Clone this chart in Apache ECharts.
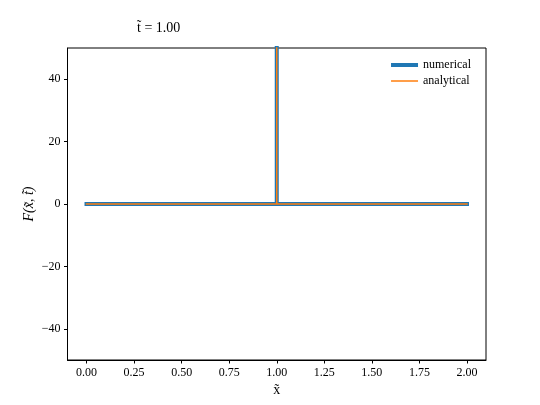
<!DOCTYPE html>
<html>
<head>
<meta charset="utf-8">
<script src="https://cdn.jsdelivr.net/npm/echarts@6/dist/echarts.min.js"></script>
<style>
html, body { margin: 0; padding: 0; background: #fff; }
#main { width: 540px; height: 405px; }
</style>
</head>
<body>
<div id="main"></div>
<script>
// data
var xValues = [0, 1, 1, 1, 2];
var numerical = [0, 0, 100, 0, 0];
var analytical = [0, 0, 100, 0, 0];
var xTicks = [0, 0.25, 0.5, 0.75, 1, 1.25, 1.5, 1.75, 2];
var yTicks = [-40, -20, 0, 20, 40];

var font = 'Liberation Serif';

function pairs(ys) {
	var out = [];
	for (var i = 0; i < xValues.length; i++) out.push([xValues[i], ys[i]]);
	return out;
}

// legend icon: a bar of given thickness inside a 27x10 box (tiny corner points keep the box size)
function barIcon(h) {
	var y0 = (10 - h) / 2, y1 = y0 + h;
	return 'path://M0,0 L0.01,0 L0,0.01 Z M0,' + y0 + ' L27,' + y0 + ' L27,' + y1 + ' L0,' + y1 + ' Z M27,10 L26.99,10 L27,9.99 Z';
}

var myChart = echarts.init(document.getElementById('main'));

myChart.setOption({
	animation: false,
	backgroundColor: '#fff',
	title: {
		text: 't\u0303 = 1.00',
		left: 132,
		top: 16,
		textStyle: { fontFamily: font, fontSize: 14, fontWeight: 'normal', color: '#000' }
	},
	legend: {
		right: 64,
		top: 54,
		orient: 'vertical',
		itemWidth: 27,
		itemHeight: 10,
		itemGap: 4,
		textStyle: { fontFamily: font, fontSize: 12, color: '#000' },
		data: [
			{ name: 'numerical', icon: barIcon(4), itemStyle: { color: '#1f77b4', borderWidth: 0 } },
			{ name: 'analytical', icon: barIcon(1.5), itemStyle: { color: '#ff7f0e', borderWidth: 0 } }
		]
	},
	grid: {
		left: 67.5,
		right: 54,
		top: 48,
		bottom: 45,
		show: true,
		borderColor: '#000',
		borderWidth: 1
	},
	xAxis: {
		type: 'value',
		min: -0.1,
		max: 2.1,
		name: 'x\u0303',
		nameLocation: 'middle',
		nameGap: 23,
		nameMoveOverlap: false,
		nameTextStyle: { fontFamily: font, fontSize: 14, color: '#000' },
		splitLine: { show: false },
		axisLine: { onZero: false, lineStyle: { color: '#000', width: 1 } },
		axisTick: { customValues: xTicks, length: 3.5, lineStyle: { color: '#000' } },
		axisLabel: {
			customValues: xTicks,
			margin: 7,
			fontFamily: font,
			fontSize: 12,
			color: '#000',
			formatter: function (v) { return v.toFixed(2); }
		}
	},
	yAxis: {
		type: 'value',
		min: -50,
		max: 50,
		name: 'F(x\u0303, t\u0303)',
		nameLocation: 'middle',
		nameGap: 31,
		nameMoveOverlap: false,
		nameTextStyle: { fontFamily: font, fontSize: 14, color: '#000', fontStyle: 'italic' },
		splitLine: { show: false },
		axisLine: { show: true, onZero: false, lineStyle: { color: '#000', width: 1 } },
		axisTick: { show: true, customValues: yTicks, length: 3.5, lineStyle: { color: '#000' } },
		axisLabel: {
			customValues: yTicks,
			margin: 7,
			fontFamily: font,
			fontSize: 12,
			color: '#000',
			formatter: function (v) { return String(v).replace('-', '\u2212'); }
		}
	},
	series: [
		{
			name: 'numerical',
			type: 'line',
			data: pairs(numerical),
			showSymbol: false,
			symbol: 'none',
			clip: true,
			color: '#1f77b4',
			lineStyle: { color: '#1f77b4', width: 4, cap: 'square', join: 'miter' }
		},
		{
			name: 'analytical',
			type: 'line',
			data: pairs(analytical),
			showSymbol: false,
			symbol: 'none',
			clip: true,
			color: '#ff7f0e',
			lineStyle: { color: '#ff7f0e', width: 1.5, cap: 'square', join: 'miter' }
		}
	]
});
</script>
</body>
</html>
